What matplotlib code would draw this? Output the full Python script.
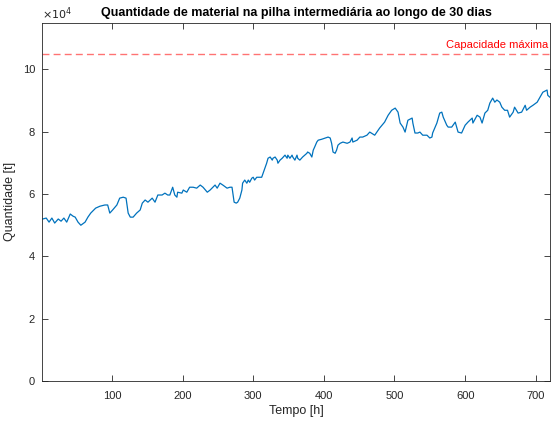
import matplotlib
matplotlib.use('Agg')
import matplotlib.pyplot as plt
from matplotlib.ticker import FuncFormatter

# hours and stock level (t)
hours = [2, 7, 11, 15, 19, 24, 28, 32, 36, 41, 45, 48, 52, 56, 62, 66, 70, 77, 83, 90,
         94, 97, 101, 107, 111, 116, 120, 123, 126, 130, 135, 140, 143, 147, 151, 157, 161, 165, 171, 175,
         179, 182, 186, 189, 192, 193, 199, 201, 206, 210, 215, 220, 225, 229, 235, 239, 243, 246, 249, 253,
         257, 263, 267, 270, 273, 276, 278, 281, 284, 285, 288, 291, 293, 295, 298, 300, 302, 305, 312, 314,
         317, 319, 321, 324, 327, 328, 331, 334, 335, 338, 341, 345, 348, 349, 352, 355, 356, 359, 362, 363,
         366, 370, 376, 377, 380, 383, 385, 387, 390, 392, 397, 402, 406, 409, 411, 413, 416, 418, 420, 423,
         427, 433, 437, 440, 441, 447, 451, 455, 461, 465, 472, 479, 486, 491, 496, 501, 505, 508, 512, 515,
         519, 525, 526, 529, 533, 536, 540, 546, 550, 553, 554, 560, 564, 567, 569, 574, 576, 581, 586, 588,
         590, 595, 600, 604, 610, 611, 617, 621, 624, 628, 632, 635, 639, 642, 645, 649, 652, 656, 660, 663,
         668, 670, 675, 680, 685, 687, 692, 696, 702, 706, 710, 716, 717, 720]
quantidade = [52000, 52300, 51000, 52300, 50700, 52000, 51300, 52300, 51000, 53600, 52900, 52600, 51000, 50000, 51000, 52600, 53900, 55500, 56100, 56500,
              56500, 53900, 54900, 56500, 58700, 59000, 58700, 53900, 52600, 52600, 53900, 54900, 57100, 58100, 57400, 58700, 57400, 59700, 59700, 60300,
              59700, 59700, 62200, 59700, 59000, 60600, 60300, 61300, 60600, 62200, 62200, 61900, 62900, 62200, 60600, 61300, 62200, 62900, 61900, 63500,
              62900, 61900, 62200, 62200, 57400, 57100, 57400, 58700, 61300, 63500, 64500, 63500, 64500, 63800, 65100, 65400, 64500, 65400, 65400, 66700,
              68700, 69900, 71500, 71900, 70900, 71500, 71900, 70900, 69900, 70900, 71500, 72500, 71500, 72500, 71500, 72500, 71900, 70900, 72500, 71500,
              70900, 71900, 73100, 73500, 73100, 71900, 74100, 75100, 76700, 77300, 77600, 78000, 78300, 78000, 76300, 73500, 73100, 74100, 75700, 76300,
              76700, 76300, 76700, 78000, 76700, 77300, 78300, 78300, 78900, 79900, 78900, 81200, 83100, 85300, 86900, 87600, 86300, 82800, 81500, 79900,
              83700, 84400, 82800, 79600, 79600, 79900, 78900, 78900, 78000, 78300, 79600, 82800, 86000, 86300, 84700, 82100, 81500, 81500, 83100, 81500,
              79900, 79600, 82100, 83100, 84400, 82800, 85300, 84700, 82800, 86000, 86900, 89200, 90800, 89500, 90200, 89500, 87900, 86900, 86900, 84700,
              86300, 87900, 86000, 86300, 88500, 86900, 87900, 88500, 89500, 91100, 92700, 93400, 91700, 91100]

capacidade = 105000

fam = ['Liberation Sans', 'DejaVu Sans']
plt.rcParams['font.family'] = fam

fig = plt.figure(figsize=(5.51, 4.21), dpi=100)
ax = fig.add_axes([0.0762, 0.095, 0.9218, 0.851])

ax.plot(hours, quantidade, color='#0072BD', linewidth=0.9)
ax.axhline(capacidade, color='red', alpha=0.55, linestyle=(0, (5, 3)), linewidth=1.0)
ax.text(718, capacidade + 1200, 'Capacidade máxima', color='red', ha='right', va='bottom',
        fontsize=8, family=fam)

ax.set_xlim(1, 720)
ax.set_ylim(0, 115000)
ax.set_xticks([100, 200, 300, 400, 500, 600, 700])
ax.set_yticks([0, 20000, 40000, 60000, 80000, 100000])
ax.yaxis.set_major_formatter(FuncFormatter(lambda v, p: '%g' % (v / 1e4)))
ax.tick_params(direction='in', length=4, width=0.6, top=True, right=True,
               labelsize=8, colors='#262626')
ax.tick_params(axis='x', pad=7)
ax.tick_params(axis='y', pad=5)
for s in ax.spines.values():
    s.set_color('#262626')
    s.set_linewidth(0.6)

ax.text(0, 1.003, r'$\times 10^4$', transform=ax.transAxes, fontsize=8, color='#262626',
        ha='left', va='bottom')
ax.set_xlabel('Tempo [h]', fontsize=9, color='#262626', labelpad=3)
ax.set_ylabel('Quantidade [t]', fontsize=9, color='#262626', labelpad=5)
ax.set_title('Quantidade de material na pilha intermediária ao longo de 30 dias',
             fontsize=9, fontweight='bold', pad=5)

fig.savefig('out.png', dpi=100)
